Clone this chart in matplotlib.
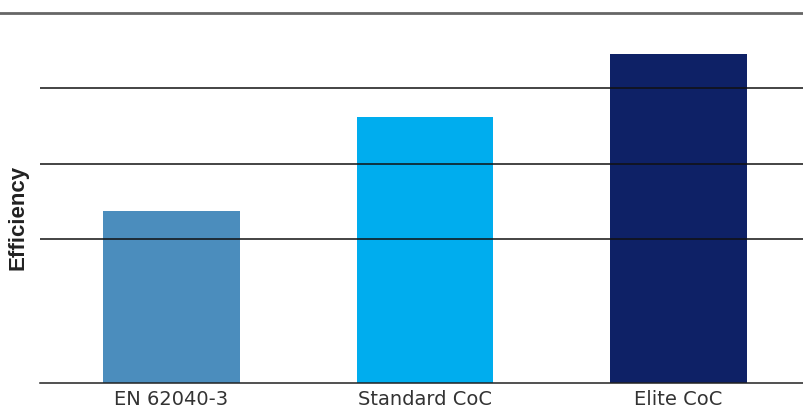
import matplotlib.pyplot as plt

categories = ["EN 62040-3", "Standard CoC", "Elite CoC"]
efficiency = [94.37, 95.62, 96.46]
bar_colors = ["#4b8dbd", "#00adee", "#0e2166"]
grid_ticks = [94, 95, 96]
y_min, y_max = 92.09, 97.0

fig = plt.figure(figsize=(8.04, 4.12), dpi=100)
ax = fig.add_axes([40 / 804, 29 / 412, 764 / 804, 370 / 412])

positions = range(len(categories))
ax.bar(positions, efficiency, width=0.54, color=bar_colors, zorder=1)

ax.set_ylim(y_min, y_max)
ax.set_xlim(-0.519, 2.495)

# gridlines drawn on top of the bars
for t in grid_ticks:
    ax.axhline(t, color="#111111", lw=1.1, zorder=3)
ax.axhline(y_min, color="#222222", lw=1.1, zorder=3, clip_on=False)
# grey rule along the top, running to the figure edge
ax.axhline(y_max, xmin=-40 / 764, xmax=1, color="#666666", lw=2,
           zorder=3, clip_on=False)

for s in ax.spines.values():
    s.set_visible(False)
ax.set_yticks([])
ax.set_xticks(list(positions))
ax.set_xticklabels(categories, fontsize=14, color="#333333",
                   family="DejaVu Sans")
ax.tick_params(axis="x", length=0, pad=5)

fig.text(18 / 804, 1 - 217 / 412, "Efficiency", rotation=90, ha="center",
         va="center", fontsize=16, fontweight="bold", family="Liberation Sans",
         color="#222222")

fig.savefig("out.png", dpi=100)
